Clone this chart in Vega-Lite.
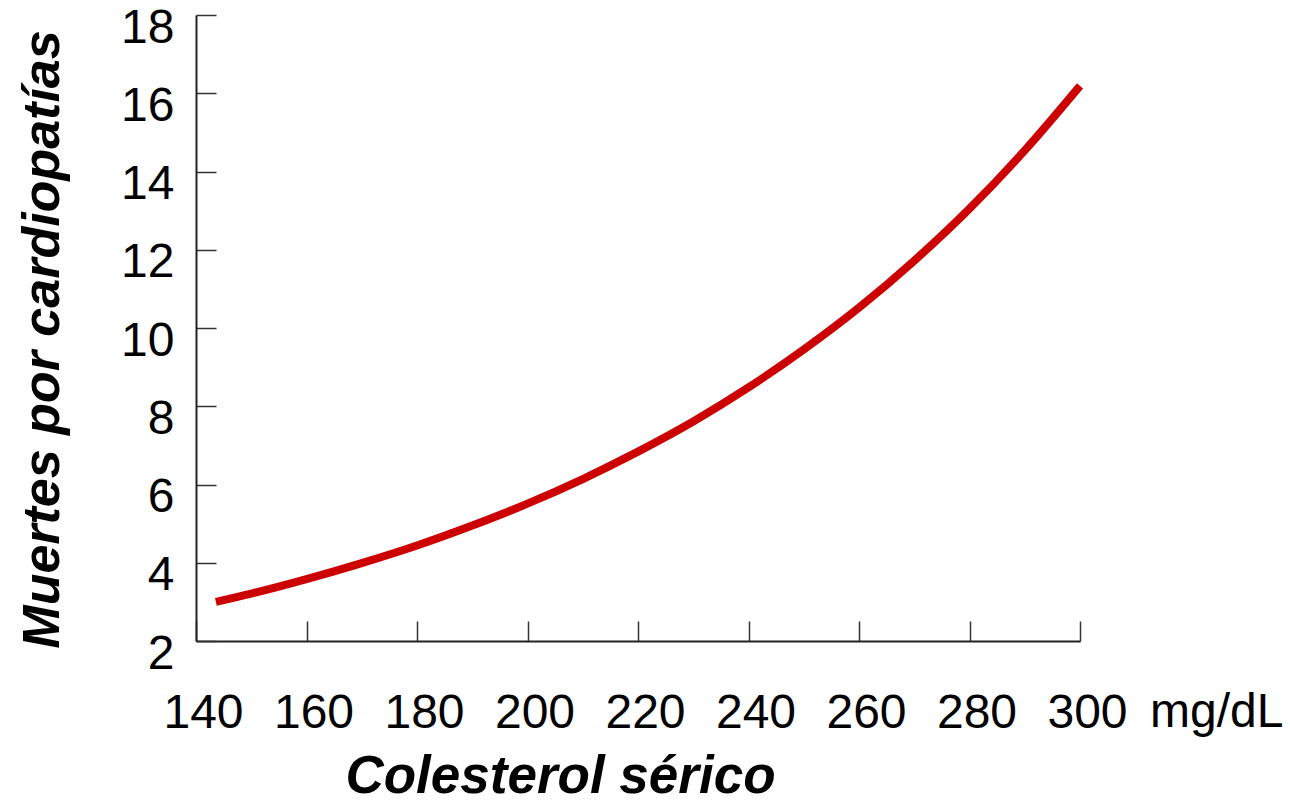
{
  "$schema": "https://vega.github.io/schema/vega-lite/v6.json",
  "width": 884,
  "height": 626,
  "autosize": {"type": "none"},
  "padding": {"left": 196, "top": 15, "right": 210, "bottom": 163},
  "background": "white",
  "config": {
    "view": {"stroke": null},
    "font": "Liberation Sans"
  },
  "data": {
    "values": [
      {"chol": 143.6, "deaths": 3.0},
      {"chol": 150, "deaths": 3.21},
      {"chol": 160, "deaths": 3.58},
      {"chol": 170, "deaths": 3.99},
      {"chol": 180, "deaths": 4.44},
      {"chol": 190, "deaths": 4.95},
      {"chol": 200, "deaths": 5.51},
      {"chol": 210, "deaths": 6.14},
      {"chol": 220, "deaths": 6.84},
      {"chol": 230, "deaths": 7.61},
      {"chol": 240, "deaths": 8.48},
      {"chol": 250, "deaths": 9.45},
      {"chol": 260, "deaths": 10.52},
      {"chol": 270, "deaths": 11.72},
      {"chol": 280, "deaths": 13.05},
      {"chol": 290, "deaths": 14.54},
      {"chol": 300, "deaths": 16.19}
    ]
  },
  "layer": [
    {
      "mark": {"type": "line", "color": "#cc0000", "strokeWidth": 8, "interpolate": "monotone", "strokeCap": "butt"},
      "encoding": {
        "x": {
          "field": "chol", "type": "quantitative",
          "scale": {"domain": [140, 300], "nice": false, "zero": false},
          "axis": {
            "values": [140, 160, 180, 200, 220, 240, 260, 280, 300],
            "grid": false,
            "domainColor": "#222",
            "domainWidth": 2,
            "tickColor": "#333",
            "tickWidth": 1.5,
            "tickSize": -20,
            "labelFontSize": 48,
            "labelColor": "black",
            "labelBaseline": "alphabetic",
            "labelPadding": 106,
            "labelOffset": 7,
            "labelFlush": false,
            "labelOverlap": false,
            "title": "Colesterol sérico",
            "titleFontSize": 53,
            "titleFontWeight": "bold",
            "titleFontStyle": "italic",
            "titleColor": "black",
            "titleAlign": "center",
            "titleAnchor": null,
            "titleX": 364,
            "titleY": 151,
            "titleBaseline": "alphabetic"
          }
        },
        "y": {
          "field": "deaths", "type": "quantitative",
          "scale": {"domain": [2, 18], "nice": false, "zero": false},
          "axis": {
            "values": [2, 4, 6, 8, 10, 12, 14, 16, 18],
            "grid": false,
            "domainColor": "#222",
            "domainWidth": 2,
            "tickColor": "#333",
            "tickWidth": 1.5,
            "tickSize": -20,
            "labelFontSize": 48,
            "labelColor": "black",
            "labelPadding": 42,
            "labelBaseline": "middle",
            "labelOffset": 13,
            "labelFlush": false,
            "labelOverlap": false,
            "title": "Muertes por cardiopatías",
            "titleFontSize": 52,
            "titleFontWeight": "bold",
            "titleFontStyle": "italic",
            "titleColor": "black",
            "titleAlign": "center",
            "titleAnchor": null,
            "titleAngle": -90,
            "titleX": -138,
            "titleY": 324,
            "titleBaseline": "alphabetic"
          }
        }
      }
    },
    {
      "data": {"values": [{"chol": 300, "deaths": 2, "unit": "mg/dL"}]},
      "mark": {"type": "text", "fontSize": 48, "align": "left", "baseline": "alphabetic", "dx": 70, "dy": 86, "color": "black"},
      "encoding": {
        "x": {"field": "chol", "type": "quantitative"},
        "y": {"field": "deaths", "type": "quantitative"},
        "text": {"field": "unit"}
      }
    }
  ]
}
